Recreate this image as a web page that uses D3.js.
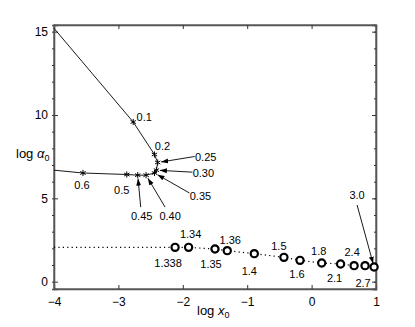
<!DOCTYPE html>
<html><head><meta charset="utf-8">
<script src="https://cdn.jsdelivr.net/npm/d3@7"></script>
<style>
body{margin:0;background:#fff;}
text{font-family:"Liberation Sans Narrow","Arial Narrow","Liberation Sans",Arial,sans-serif;}
</style></head>
<body><svg id="c" width="415" height="327"></svg>
<script>
// ---- data ----
const upperX = [-4, -2.77, -2.44, -2.39, -2.41, -2.44, -2.57, -2.70, -2.87, -3.55, -4];
const upperY = [15.2, 9.58, 7.63, 7.15, 6.69, 6.52, 6.39, 6.39, 6.43, 6.52, 6.69];
const upperLabels = ["", "0.1", "0.2", "0.25", "0.30", "0.35", "0.40", "0.45", "0.5", "0.6", ""];
const lowerX = [-4, -2.12, -1.91, -1.50, -1.31, -0.89, -0.43, -0.18, 0.157, 0.45, 0.66, 0.83, 0.97];
const lowerY = [2.06, 2.06, 2.06, 1.96, 1.86, 1.68, 1.46, 1.28, 1.12, 1.06, 0.96, 0.96, 0.88];
const lowerLabels = ["", "1.338", "1.34", "1.35", "1.36", "1.4", "1.5", "1.6", "1.8", "2.1", "2.4", "2.7", "3.0"];
const xTicks = [-4, -3, -2, -1, 0, 1];
const yTicks = [0, 5, 10, 15];
const yMinor = d3.range(0, 16);

// ---- layout (pixel offsets for labels and arrows) ----
const upperLab = {"0.1":[11,-5],"0.2":[8,-9],"0.25":[48,-6],"0.30":[47,3],"0.35":[46,23],"0.40":[24,41],"0.45":[4,41],"0.5":[-5,15],"0.6":[-1,12]};
const upperArrow = {"0.25":[37,-6],"0.30":[36,2],"0.35":[35,20],"0.40":[19,32],"0.45":[3,32]};
const lowerLab = {"1.338":[-7,16],"1.34":[2,-13],"1.35":[-4,15],"1.36":[3,-11],"1.4":[-5,17],"1.5":[-5,-11],"1.6":[-3,14],"1.8":[-3,-12],"2.1":[-6,14],"2.4":[-2,-14],"2.7":[-2,17],"3.0":[-17,-72]};
const lowerArrow = {"3.0":[-17,-62]};

const svg = d3.select("#c");
const L=54, R=376, T=25, B=289;
const x = d3.scaleLinear().domain([-4,1]).range([L,R]);
const y = d3.scaleLinear().domain([-0.44,15.4]).range([B,T]);

svg.append("defs").append("marker").attr("id","ah").attr("viewBox","0 0 10 10")
  .attr("refX",10).attr("refY",5).attr("markerWidth",7).attr("markerHeight",7)
  .attr("markerUnits","userSpaceOnUse").attr("orient","auto")
  .append("path").attr("d","M0,1.5L10,5L0,8.5Z").attr("fill","#000");

// frame
svg.append("rect").attr("x",L).attr("y",T).attr("width",R-L).attr("height",B-T)
  .attr("fill","none").attr("stroke","#222").attr("stroke-width",1);

// axes
const gx = svg.append("g").attr("transform",`translate(0,${B})`)
  .call(d3.axisBottom(x).tickValues(xTicks).tickSize(-4).tickPadding(8).tickFormat(d=>d3.format("")(d).replace("-","\u2212")));
const gxt = svg.append("g").attr("transform",`translate(0,${T})`)
  .call(d3.axisTop(x).tickValues(xTicks).tickSize(-4).tickFormat(""));
const gy = svg.append("g").attr("transform",`translate(${L},0)`)
  .call(d3.axisLeft(y).tickValues(yTicks).tickSize(-4).tickPadding(6));
const gyr = svg.append("g").attr("transform",`translate(${R},0)`)
  .call(d3.axisRight(y).tickValues(yTicks).tickSize(-4).tickFormat(""));
const gym = svg.append("g").attr("transform",`translate(${L},0)`)
  .call(d3.axisLeft(y).tickValues(yMinor).tickSize(2).tickFormat(""));
const gymr = svg.append("g").attr("transform",`translate(${R},0)`)
  .call(d3.axisRight(y).tickValues(yMinor).tickSize(-2).tickFormat(""));
[gx,gxt,gy,gyr,gym,gymr].forEach(g=>{
  g.select(".domain").attr("stroke","#555").attr("stroke-width",1.3);
  g.selectAll(".tick line").attr("stroke","#333");
  g.selectAll("text").attr("font-size",12).attr("fill","#000")
   .attr("font-family",'"Liberation Sans Narrow","Liberation Sans",Arial,sans-serif');
});

// axis titles
const yt = svg.append("text").attr("x",16).attr("y",158).attr("font-size",13)
  .attr("font-family",'"Liberation Serif","Times New Roman",serif');
yt.append("tspan").text("log ");
yt.append("tspan").attr("font-style","italic").text("\u03b1");
yt.append("tspan").attr("font-size",9).attr("dy",3).text("0");
const xt = svg.append("text").attr("x",197).attr("y",315).attr("font-size",13)
  .attr("font-family",'"Liberation Serif","Times New Roman",serif');
xt.append("tspan").text("log ");
xt.append("tspan").attr("font-style","italic").text("x");
xt.append("tspan").attr("font-size",9).attr("dy",3).text("0");

// upper curve
const up = upperX.map((v,i)=>({x:v,y:upperY[i],l:upperLabels[i]}));
svg.append("path").datum(up).attr("fill","none").attr("stroke","#000").attr("stroke-width",0.9)
  .attr("d",d3.line().x(d=>x(d.x)).y(d=>y(d.y)));
const star = d3.symbol().type(d3.symbolAsterisk).size(26);
svg.selectAll(".st").data(up.filter(d=>d.l)).join("path")
  .attr("transform",d=>`translate(${x(d.x)},${y(d.y)})`).attr("d",star)
  .attr("stroke","#000").attr("stroke-width",1).attr("fill","none");

// lower curve
const lo = lowerX.map((v,i)=>({x:v,y:lowerY[i],l:lowerLabels[i]}));
svg.append("path").datum(lo).attr("fill","none").attr("stroke","#000").attr("stroke-width",1.2)
  .attr("stroke-dasharray","1.2,3.2")
  .attr("d",d3.line().x(d=>x(d.x)).y(d=>y(d.y)));
svg.selectAll(".ci").data(lo.filter(d=>d.l)).join("circle")
  .attr("cx",d=>x(d.x)).attr("cy",d=>y(d.y)).attr("r",3.6)
  .attr("fill","#fff").attr("stroke","#000").attr("stroke-width",2.2);

// labels and arrows
function labels(data, off, arr){
  data.filter(d=>d.l).forEach(d=>{
    const px=x(d.x), py=y(d.y), o=off[d.l];
    if(arr[d.l]){
      const a=arr[d.l];
      const sx=px+a[0], sy=py+a[1];
      const dx=-a[0], dy=-a[1], len=Math.hypot(dx,dy);
      const ex=px - dx/len*3.5, ey=py - dy/len*3.5;
      svg.append("line").attr("x1",sx).attr("y1",sy).attr("x2",ex).attr("y2",ey)
        .attr("stroke","#000").attr("stroke-width",0.9).attr("marker-end","url(#ah)");
    }
    svg.append("text").attr("x",px+o[0]).attr("y",py+o[1]).attr("text-anchor","middle")
      .attr("dominant-baseline","central").attr("font-size",11).text(d.l);
  });
}
labels(up, upperLab, upperArrow);
labels(lo, lowerLab, lowerArrow);
</script></body></html>
